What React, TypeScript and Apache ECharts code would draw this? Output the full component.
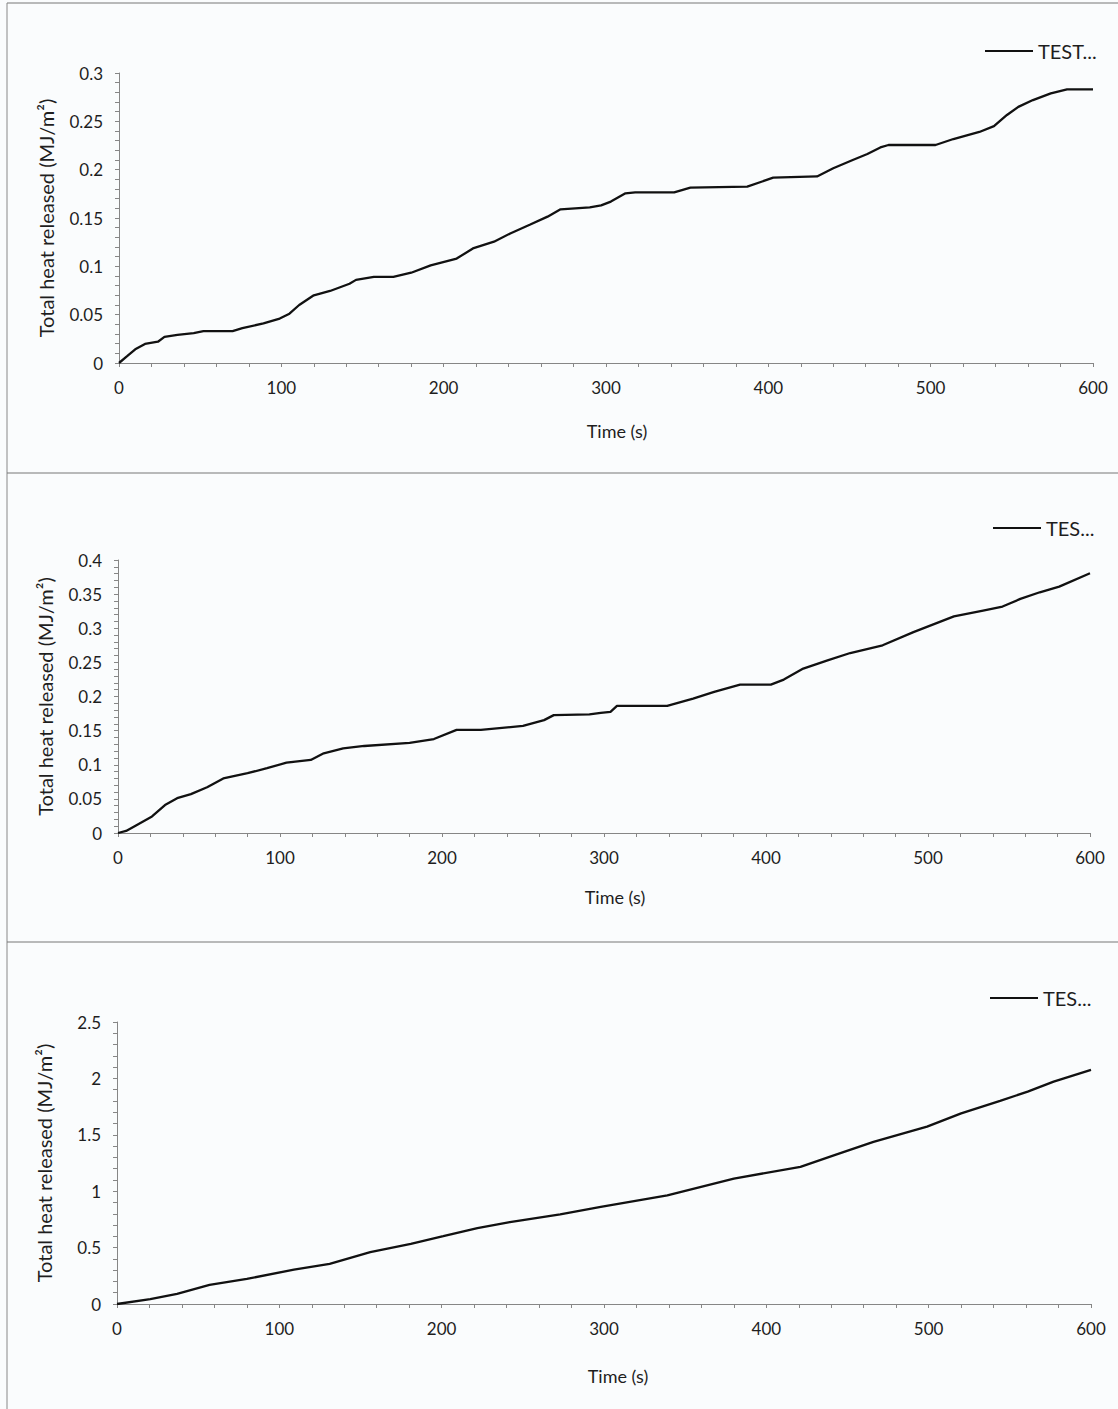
import React, { useEffect, useRef } from "react";
import * as echarts from "echarts";

// Cumulative heat release, [time (s), THR (MJ/m²)]
const HEAT_A: [number, number][] = [
  [0, 0], [5, 0.007], [10, 0.0142], [16, 0.0197], [24, 0.022], [28, 0.027], [36, 0.029],
  [46, 0.031], [52, 0.033], [70, 0.033], [76, 0.036], [89, 0.041], [99, 0.046], [105, 0.051],
  [111, 0.06], [120, 0.07], [130, 0.0745], [142, 0.082], [146, 0.086], [157, 0.089], [169, 0.089],
  [180, 0.0934], [192, 0.101], [208, 0.108], [218, 0.1185], [231, 0.1255], [241, 0.134],
  [253, 0.143], [264, 0.1514], [272, 0.159], [290, 0.161], [297, 0.163], [303, 0.167],
  [312, 0.1755], [318, 0.1765], [342, 0.1765], [352, 0.1815], [387, 0.1824], [403, 0.1917],
  [430, 0.193], [440, 0.2014], [452, 0.21], [461, 0.2162], [469, 0.223], [474, 0.2255],
  [503, 0.2255], [514, 0.2317], [530, 0.239], [539, 0.245], [547, 0.2566], [554, 0.265],
  [563, 0.272], [574, 0.279], [584, 0.283], [600, 0.283],
];

const HEAT_B: [number, number][] = [
  [0, 0], [5, 0.003], [10, 0.0097], [21, 0.0243], [29, 0.041], [36.5, 0.051], [45, 0.057],
  [55, 0.067], [65, 0.08], [80, 0.0876], [92, 0.0949], [104, 0.103], [119, 0.107], [127, 0.1168],
  [139, 0.124], [152, 0.1275], [180, 0.132], [195, 0.1377], [209, 0.151], [224, 0.151],
  [250, 0.157], [263, 0.1654], [269, 0.1727], [291, 0.1737], [298, 0.176], [304, 0.1776],
  [308, 0.1863], [339, 0.1863], [355, 0.197], [368, 0.2067], [384, 0.2175], [403, 0.2175],
  [411, 0.2248], [423, 0.2409], [438, 0.253], [452, 0.2637], [472, 0.275], [491, 0.2944],
  [516, 0.3173], [534, 0.326], [546, 0.3318], [557, 0.343], [569, 0.3527], [581, 0.361],
  [600, 0.3805],
];

const HEAT_C: [number, number][] = [
  [0, 0], [20.5, 0.044], [37, 0.089], [57, 0.169], [80, 0.222], [109, 0.305], [131, 0.356],
  [156, 0.459], [181, 0.534], [201, 0.601], [222, 0.673], [242, 0.726], [273, 0.795],
  [298, 0.86], [339, 0.964], [380, 1.112], [421, 1.216], [442, 1.32], [466, 1.438],
  [499, 1.572], [520, 1.69], [544, 1.8], [561, 1.883], [577, 1.972], [600, 2.076],
];

const SERIES_NAMES = ["TEST...", "TES...", "TES..."];
const Y_MAX = [0.3, 0.4, 2.5];
const Y_STEP = [0.05, 0.05, 0.5];
const X_MAX = 600;
const X_STEP = 100;
const X_TITLE = "Time (s)";
const Y_TITLE = "Total heat released (MJ/m²)";

const FONT = "Lato, 'Open Sans', sans-serif";
const TEXT = "#1e1e1e";
const AXIS = "#868686";

const GRIDS = [
  { left: 119, top: 73, width: 974, height: 290 },
  { left: 118, top: 560, width: 972, height: 273 },
  { left: 117, top: 1022, width: 974, height: 282 },
];
const X_NAME_GAP = [59, 55, 63];
const LEGEND_POS = [
  { left: 985, top: 41 },
  { left: 993, top: 518 },
  { left: 990, top: 988 },
];

export default function App() {
  const ref = useRef<HTMLDivElement>(null);

  useEffect(() => {
    if (!ref.current) return;
    const chart = echarts.init(ref.current, null, { renderer: "svg" });
    const data = [HEAT_A, HEAT_B, HEAT_C];

    const axisCommon = {
      axisLine: { show: true, lineStyle: { color: AXIS, width: 1 } },
      axisTick: { show: true, inside: false, length: 4, lineStyle: { color: AXIS } },
      minorTick: { show: true, splitNumber: 5, length: 4, lineStyle: { color: AXIS } },
      splitLine: { show: false },
      axisLabel: { color: TEXT, fontFamily: FONT, fontSize: 17, margin: 16 },
    };

    const option: any = {
      animation: false,
      backgroundColor: "#fafcfd",
      grid: GRIDS.map((g) => ({ ...g, containLabel: false })),
      xAxis: GRIDS.map((_, i) => ({
        ...axisCommon,
        type: "value",
        gridIndex: i,
        min: 0,
        max: X_MAX,
        interval: X_STEP,
        name: X_TITLE,
        nameLocation: "middle",
        nameGap: X_NAME_GAP[i],
        nameTextStyle: {
          color: TEXT,
          fontFamily: FONT,
          fontSize: 18,
          padding: [0, 0, 0, i === 2 ? 28 : 22],
        },
      })),
      yAxis: GRIDS.map((_, i) => ({
        ...axisCommon,
        type: "value",
        gridIndex: i,
        min: 0,
        max: Y_MAX[i],
        interval: Y_STEP[i],
        name: Y_TITLE,
        nameLocation: "middle",
        nameGap: 63,
        nameTextStyle: { color: TEXT, fontFamily: FONT, fontSize: 20 },
      })),
      legend: GRIDS.map((_, i) => ({
        data: [SERIES_NAMES[i]],
        ...LEGEND_POS[i],
        padding: 0,
        icon: "rect",
        itemWidth: 48,
        itemHeight: 2,
        selectedMode: false,
        textStyle: { color: TEXT, fontFamily: FONT, fontSize: 20 },
      })),
      series: data.map((d, i) => ({
        type: "line",
        name: SERIES_NAMES[i],
        xAxisIndex: i,
        yAxisIndex: i,
        data: d,
        showSymbol: false,
        symbol: "none",
        lineStyle: { color: "#111", width: 2.3 },
        itemStyle: { color: "#111" },
      })),
      graphic: [
        { type: "line", shape: { x1: 7, y1: 3, x2: 1118, y2: 3 }, style: { stroke: "#777", lineWidth: 1 } },
        { type: "line", shape: { x1: 7, y1: 3, x2: 7, y2: 1409 }, style: { stroke: "#888", lineWidth: 1 } },
        { type: "line", shape: { x1: 7, y1: 473, x2: 1118, y2: 473 }, style: { stroke: "#777", lineWidth: 1 } },
        { type: "line", shape: { x1: 7, y1: 942, x2: 1118, y2: 942 }, style: { stroke: "#777", lineWidth: 1 } },
      ],
    };

    chart.setOption(option);
    return () => chart.dispose();
  }, []);

  return (
    <div
      ref={ref}
      style={{ position: "absolute", left: 0, top: 0, width: 1118, height: 1409 }}
    />
  );
}
